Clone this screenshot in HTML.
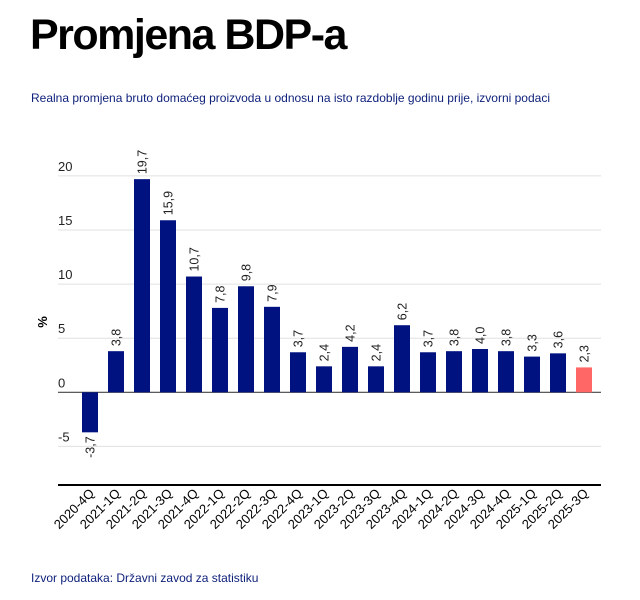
<!DOCTYPE html>
<html><head><meta charset="utf-8"><style>
body{margin:0;background:#fff;width:640px;height:600px;overflow:hidden;font-family:"Liberation Sans",sans-serif;position:relative}
#title{position:absolute;left:30px;top:11px;font-size:43px;font-weight:bold;letter-spacing:-1.5px;color:#000;margin:0}
#sub{position:absolute;left:31px;top:91px;font-size:12px;color:#0d1f7a}
#src{position:absolute;left:31px;top:571px;font-size:12px;color:#0d1f7a}
svg{position:absolute;left:0;top:0}
</style></head><body>
<h1 id="title">Promjena BDP-a</h1>
<div id="sub">Realna promjena bruto domaćeg proizvoda u odnosu na isto razdoblje godinu prije, izvorni podaci</div>
<div id="src">Izvor podataka: Državni zavod za statistiku</div>
<svg id="chart" width="640" height="600"></svg>
<script>
const categories=["2020-4Q","2021-1Q","2021-2Q","2021-3Q","2021-4Q","2022-1Q","2022-2Q","2022-3Q","2022-4Q","2023-1Q","2023-2Q","2023-3Q","2023-4Q","2024-1Q","2024-2Q","2024-3Q","2024-4Q","2025-1Q","2025-2Q","2025-3Q"];
const values=[-3.7,3.8,19.7,15.9,10.7,7.8,9.8,7.9,3.7,2.4,4.2,2.4,6.2,3.7,3.8,4.0,3.8,3.3,3.6,2.3];
const valueLabels=["-3,7","3,8","19,7","15,9","10,7","7,8","9,8","7,9","3,7","2,4","4,2","2,4","6,2","3,7","3,8","4,0","3,8","3,3","3,6","2,3"];
const yTicks=[-5,0,5,10,15,20];
const NS="http://www.w3.org/2000/svg";
const svg=document.getElementById('chart');
const x0=58,x1=601;
function y(v){return 392.3-v*10.82;}
function xc(i){return 90+i*26;}
function mk(t,a,txt){const e=document.createElementNS(NS,t);for(const k in a)e.setAttribute(k,a[k]);if(txt!==undefined)e.textContent=txt;svg.appendChild(e);return e;}
yTicks.forEach(t=>{
  const g=mk('line',{x1:x0,x2:x1,y1:y(t),y2:y(t),stroke:t===0?'#444':'#e0e0e0','stroke-width':t===0?1.2:1});
  
  
  const l=mk('text',{x:x0,y:y(t)-5,'font-size':13,fill:'#222'},String(t));
  
  
});
const ax=mk('line',{x1:x0,x2:x1,y1:485,y2:485,stroke:'#000','stroke-width':2});


const yt=mk('text',{x:0,y:0,'font-size':13,'font-weight':'bold',fill:'#000',transform:'translate(47,322) rotate(-90)','text-anchor':'middle'},'%');


values.forEach((v,i)=>{
  const last=i===values.length-1;
  const top=y(Math.max(v,0)),bot=y(Math.min(v,0));
  const r=mk('rect',{x:xc(i)-8,y:top,width:16,height:bot-top,fill:last?'#ff6666':'#001180'});
  
  
  let tx,anchor;
  if(v>=0){tx=top-5;anchor='start';}else{tx=bot+4;anchor='end';}
  const t=mk('text',{x:0,y:0,'font-size':12.5,fill:'#222','text-anchor':anchor,transform:`translate(${xc(i)+4.5},${tx}) rotate(-90)`},valueLabels[i]);
  
  
  const c=mk('text',{x:0,y:0,'font-size':13,fill:'#000','text-anchor':'end',transform:`translate(${xc(i)+5},${494}) rotate(-45)`},categories[i]);
  
  
});
</script>
</body></html>
